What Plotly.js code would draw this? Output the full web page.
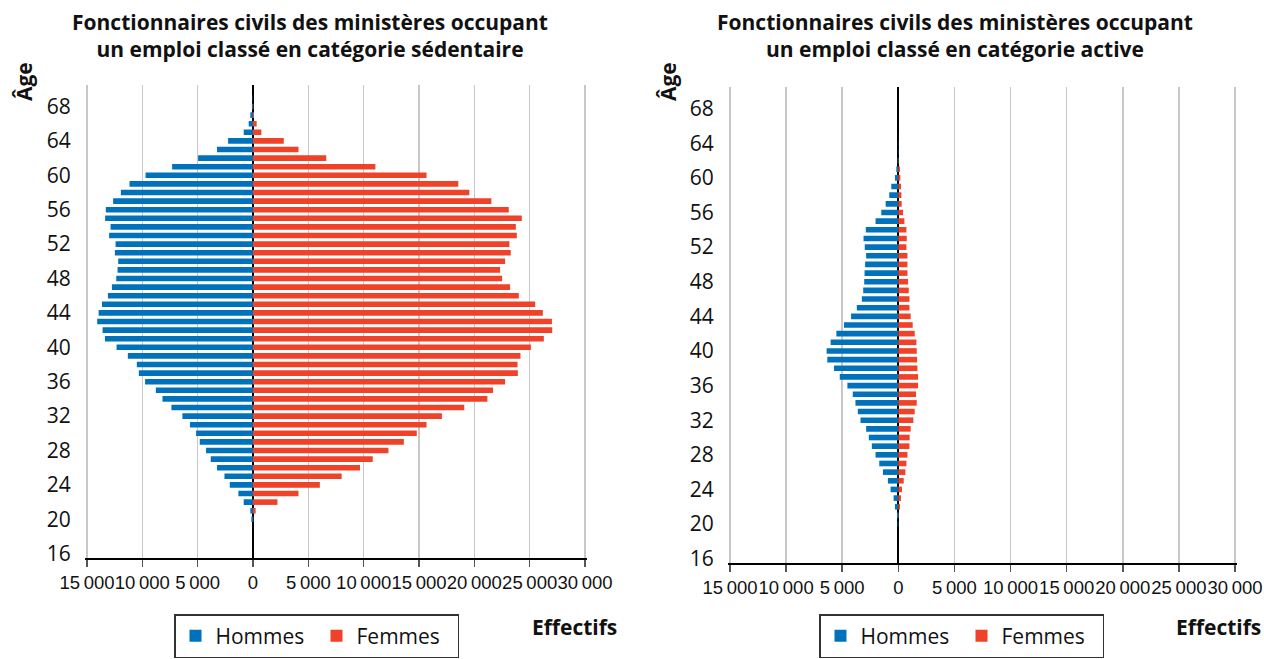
<!DOCTYPE html>
<html>
<head>
<meta charset="utf-8">
<script src="https://cdn.plot.ly/plotly-3.0.1.min.js"></script>
<style>
html,body{margin:0;padding:0;background:#fff;}
#chart{width:1264px;height:659px;}
</style>
</head>
<body>
<div id="chart"></div>
<script>
// Ages (one bar per year of age)
const ages = [16,17,18,19,20,21,22,23,24,25,26,27,28,29,30,31,32,33,34,35,36,37,38,39,40,41,42,43,44,45,46,47,48,49,50,51,52,53,54,55,56,57,58,59,60,61,62,63,64,65,66,67,68,69];

// Catégorie sédentaire
const sedHommes = [0,0,0,0,150,240,840,1320,2100,2580,3250,3820,4240,4810,5140,5690,6380,7370,8180,8780,9750,10320,10500,11310,12330,13380,13590,14080,13950,13650,13110,12750,12360,12240,12180,12480,12420,13000,12870,13360,13300,12640,11940,11160,9710,7310,4960,3250,2250,840,390,240,100,30];
const sedFemmes = [0,0,0,0,30,240,2210,4110,6040,8010,9670,10820,12240,13630,14800,15680,17070,19090,21180,21690,22780,23930,23900,24170,25110,26280,27040,27010,26190,25500,24020,23230,22510,22330,22780,23290,23170,23840,23750,24290,23110,21540,19550,18550,15680,11060,6620,4110,2780,755,330,90,30,0];

// Catégorie active
const actHommes = [0,0,0,0,60,120,300,420,690,930,1370,1700,2030,2360,2630,2870,3370,3610,3820,4060,4540,5220,5730,6330,6390,6030,5520,4840,4210,3700,3250,3130,3040,3010,2960,2870,2990,3100,2900,2030,1520,1130,810,630,300,180,60,30,20,10,0,0,0,0];
const actFemmes = [0,0,0,0,0,30,150,240,330,480,630,720,810,990,1010,1100,1340,1460,1640,1580,1760,1760,1700,1670,1640,1610,1460,1280,1100,990,990,930,870,810,810,810,720,750,720,540,420,300,270,240,180,150,30,0,0,0,0,0,0,0];

// Axis ticks
const xTickVals = [-15000,-10000,-5000,0,5000,10000,15000,20000,25000,30000];
const xTickText = ['15\u2009000','10\u2009000','5\u2009000','0','5\u2009000','10\u2009000','15\u2009000','20\u2009000','25\u2009000','30\u2009000'];
const yTickVals = [16,20,24,28,32,36,40,44,48,52,56,60,64,68];

const titleLeft = 'Fonctionnaires civils des ministères occupant<br>un emploi classé en catégorie sédentaire';
const titleRight = 'Fonctionnaires civils des ministères occupant<br>un emploi classé en catégorie active';
const seriesNames = ['Hommes','Femmes'];

const BLUE = '#0072bc';
const RED = '#f04129';
const W = 1264, H = 659;
const XMIN = -15000, XMAX = 30000;
const PAD = 200; // small range padding so edge gridlines are kept
const YRANGE = [15.5, 70.5];

function xDomain(p0, p1) {
  const perPx = (XMAX - XMIN) / (p1 - p0);
  const ext = PAD / perPx;
  return [(p0 - ext) / W, (p1 + ext) / W];
}
const dom1 = xDomain(87, 585);
const dom2 = xDomain(730, 1235);
const ydom1 = [(H-558)/H, (H-85)/H];
const ydom2 = [(H-563)/H, (H-87)/H];
const zeroPos = d => d[0] + (0 - (XMIN - PAD)) / (XMAX - XMIN + 2*PAD) * (d[1] - d[0]);
const minorTicks = [15.5].concat(ages.map(a => a + 0.5));

const tickFam = 'Liberation Sans, Arial, sans-serif';
const sans = 'Open Sans, Noto Sans, sans-serif';

function bar(vals, neg, name, color, xa, ya, lg) {
  return {
    type: 'bar', orientation: 'h', name: name,
    y: ages, x: vals.map(v => neg ? -v : v),
    marker: {color: color, line: {width: 0}},
    xaxis: xa, yaxis: ya, legend: lg,
    hoverinfo: 'skip'
  };
}

const data = [
  bar(sedHommes, true, seriesNames[0], BLUE, 'x', 'y', 'legend'),
  bar(sedFemmes, false, seriesNames[1], RED, 'x', 'y', 'legend'),
  bar(actHommes, true, seriesNames[0], BLUE, 'x2', 'y2', 'legend2'),
  bar(actFemmes, false, seriesNames[1], RED, 'x2', 'y2', 'legend2')
];

function xAxis(dom, anchor) {
  return {
    domain: dom, anchor: anchor, range: [XMIN - PAD, XMAX + PAD],
    tickmode: 'array', tickvals: xTickVals, ticktext: xTickText,
    tickangle: 0,
    showgrid: true, gridcolor: '#c8c8c8', gridwidth: 1.5,
    zeroline: true, zerolinecolor: '#000', zerolinewidth: 2,
    showline: true, linecolor: '#000', linewidth: 2,
    ticks: 'outside', ticklen: 7, tickwidth: 1.5, tickcolor: '#555',
    tickfont: {family: tickFam, size: 18.5, color: '#111'},
    fixedrange: true
  };
}
function yAxis(dom, anchor) {
  return {
    domain: dom, anchor: anchor, range: YRANGE,
    tickmode: 'array', tickvals: yTickVals,
    showgrid: false, zeroline: false, showline: false, ticks: '',
    ticklabelstandoff: 13,
    tickfont: {family: sans, size: 21, color: '#111'},
    fixedrange: true
  };
}
function minorAxis(over, pos, dom) {
  return {
    overlaying: over, anchor: 'free', position: pos, side: 'left',
    domain: dom, range: YRANGE,
    tickmode: 'array', tickvals: minorTicks, showticklabels: false,
    ticks: 'outside', ticklen: 6, tickwidth: 1.5, tickcolor: '#555',
    showgrid: false, zeroline: false, showline: false, fixedrange: true
  };
}
function legendAt(xpx) {
  return {
    orientation: 'h', x: xpx/W, y: (H-614)/H, xanchor: 'left', yanchor: 'top',
    bordercolor: '#333', borderwidth: 1.5, bgcolor: '#fff',
    font: {family: sans, size: 21, color: '#111'},
    entrywidth: 96,
    traceorder: 'normal', itemclick: false, itemdoubleclick: false
  };
}
const boldFont = (s) => ({family: sans, size: s, color: '#111', weight: 700});

const layout = {
  width: W, height: H,
  margin: {l: 0, r: 0, t: 0, b: 0},
  paper_bgcolor: '#fff', plot_bgcolor: 'rgba(0,0,0,0)',
  barmode: 'relative', bargap: 0.35,
  showlegend: true,
  xaxis: xAxis(dom1, 'y'),
  yaxis: yAxis(ydom1, 'x'),
  xaxis2: xAxis(dom2, 'y2'),
  yaxis2: yAxis(ydom2, 'x2'),
  yaxis3: minorAxis('y', zeroPos(dom1), ydom1),
  yaxis4: minorAxis('y2', zeroPos(dom2), ydom2),
  legend: legendAt(174),
  legend2: legendAt(819),
  annotations: [
    {text: titleLeft, x: 310/W, y: (H-35)/H, xref: 'paper', yref: 'paper', xanchor: 'center', yanchor: 'middle', showarrow: false, font: boldFont(21)},
    {text: titleRight, x: 955/W, y: (H-35)/H, xref: 'paper', yref: 'paper', xanchor: 'center', yanchor: 'middle', showarrow: false, font: boldFont(21)},
    {text: 'Âge', x: 24/W, y: (H-82)/H, xref: 'paper', yref: 'paper', xanchor: 'center', yanchor: 'middle', textangle: -90, showarrow: false, font: boldFont(21)},
    {text: 'Âge', x: 668/W, y: (H-82)/H, xref: 'paper', yref: 'paper', xanchor: 'center', yanchor: 'middle', textangle: -90, showarrow: false, font: boldFont(21)},
    {text: 'Effectifs', x: 574/W, y: (H-627)/H, xref: 'paper', yref: 'paper', xanchor: 'center', yanchor: 'middle', showarrow: false, font: boldFont(21)},
    {text: 'Effectifs', x: 1218/W, y: (H-627)/H, xref: 'paper', yref: 'paper', xanchor: 'center', yanchor: 'middle', showarrow: false, font: boldFont(21)}
  ]
};

Plotly.newPlot('chart', data, layout, {displayModeBar: false, staticPlot: true});
</script>
</body>
</html>
